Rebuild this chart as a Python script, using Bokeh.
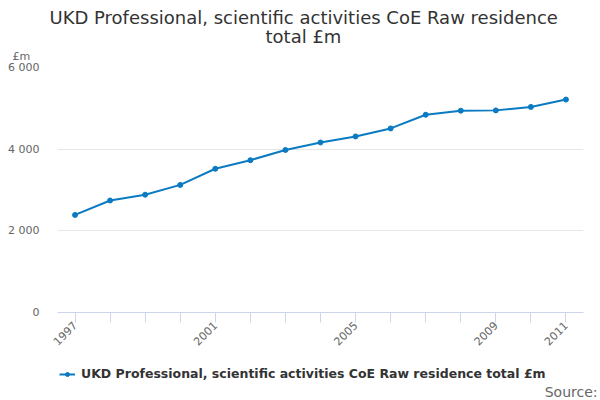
from math import pi
from bokeh.plotting import figure
from bokeh.layouts import column
from bokeh.models import Title, Legend, LegendItem, FixedTicker, Range1d
from bokeh.embed import file_html
from bokeh.resources import INLINE

years = list(range(1997, 2012))
values = [2390, 2743, 2885, 3125, 3520, 3730, 3980, 4163, 4312, 4508, 4843, 4942, 4950, 5035, 5215]
y_ticks = [0, 2000, 4000, 6000]
y_tick_labels = ["0", "2 000", "4 000", "6 000"]
x_labeled = [1997, 2001, 2005, 2009, 2011]
title_lines = ["UKD Professional, scientific activities CoE Raw residence", "total £m"]
series_name = "UKD Professional, scientific activities CoE Raw residence total £m"
unit_label = "£m"
source_text = "Source:"

FONT = "DejaVu Sans"
BLUE = "#0a7bc2"
ML, MR = 57, 17


def ttl(text, size, color, align, offset, standoff):
    return Title(text=text, align=align, offset=offset, standoff=standoff,
                 text_font=FONT, text_font_size=size, text_color=color,
                 text_font_style="normal")


# ---------- main chart ----------
p = figure(width=600, height=360, output_backend="svg", toolbar_location=None,
           x_range=Range1d(1996.5, 2011.5), y_range=Range1d(0, 6000),
           min_border_left=ML, min_border_right=MR, min_border_top=67, min_border_bottom=48)
p.outline_line_color = None
p.title.visible = False
p.add_layout(ttl(unit_label, "11px", "#666666", "left", -45, 9), "above")
p.add_layout(ttl(title_lines[1], "18px", "#333333", "left", 208, -6), "above")
p.add_layout(ttl(title_lines[0], "18px", "#333333", "left", -8, -2), "above")

p.xaxis.ticker = FixedTicker(ticks=years)
p.xaxis.major_label_overrides = {y: (str(y) if y in x_labeled else "") for y in years}
p.xaxis.minor_tick_line_color = None
p.xaxis.major_tick_in = 0
p.xaxis.major_tick_out = 10
p.xaxis.major_tick_line_color = "#ccd6eb"
p.xaxis.axis_line_color = "#ccd6eb"
p.xaxis.major_label_orientation = pi / 4
p.xaxis.major_label_text_font = FONT
p.xaxis.major_label_text_font_size = "11px"
p.xaxis.major_label_text_color = "#666666"
p.xaxis.major_label_standoff = 1

p.yaxis.ticker = FixedTicker(ticks=y_ticks)
p.yaxis.major_label_overrides = {t: l for t, l in zip(y_ticks, y_tick_labels)}
p.yaxis.axis_line_color = None
p.yaxis.major_tick_line_color = None
p.yaxis.minor_tick_line_color = None
p.yaxis.major_label_standoff = 12
p.yaxis.major_label_text_font = FONT
p.yaxis.major_label_text_font_size = "11px"
p.yaxis.major_label_text_color = "#666666"

p.xgrid.grid_line_color = None
p.ygrid.grid_line_color = "#e6e6e6"

p.line(years, values, line_color=BLUE, line_width=2)
p.scatter(years, values, size=5, fill_color=BLUE, line_color=BLUE)

# ---------- legend + source strip ----------
bot = figure(width=600, height=40, output_backend="svg", toolbar_location=None,
             x_range=Range1d(ML, 600 - MR), y_range=Range1d(381, 360),
             x_axis_type=None, y_axis_type=None,
             min_border_left=ML, min_border_right=MR, min_border_top=0, min_border_bottom=19)
bot.outline_line_color = None
bot.grid.grid_line_color = None
bot.title.visible = False
lr = bot.line(years, values, line_color=BLUE, line_width=2)
ls = bot.scatter(years, values, size=5, fill_color=BLUE, line_color=BLUE)
legend = Legend(items=[LegendItem(label=series_name, renderers=[lr, ls])],
                location=(2, 0), orientation="horizontal",
                label_text_font=FONT, label_text_font_size="12.5px", label_text_font_style="bold",
                label_text_color="#333333", glyph_width=16, glyph_height=10,
                border_line_color=None, background_fill_alpha=0,
                padding=0, margin=0, label_standoff=6, spacing=0)
bot.add_layout(legend, "center")
bot.add_layout(ttl(source_text, "14px", "#666666", "right", -14, 0), "below")

layout = column(p, bot, spacing=0)
open("out.html", "w").write(file_html(layout, INLINE))
